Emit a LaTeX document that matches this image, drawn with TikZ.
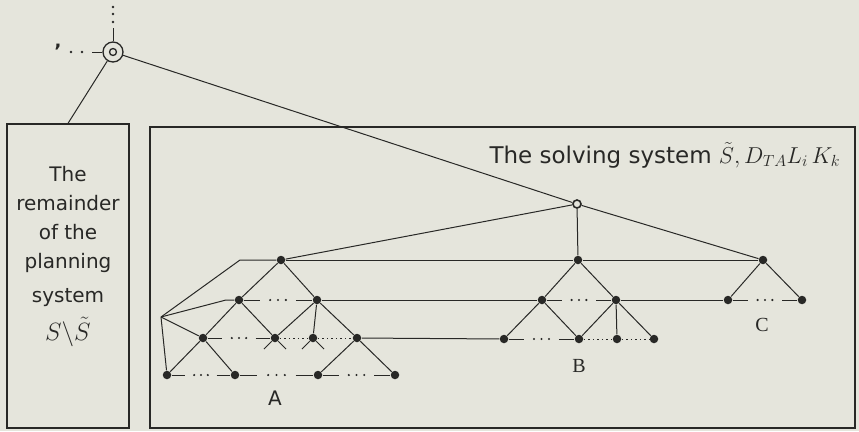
\RequirePackage{fix-cm}
\documentclass[tikz,border=0pt]{standalone}
\usepackage{fontspec}
\setmainfont{DejaVu Sans}
\newfontfamily\serifletter{Liberation Serif}
\usetikzlibrary{calc}
\definecolor{paper}{RGB}{229,229,220}
\definecolor{ink}{RGB}{40,40,38}

\begin{document}
\begin{tikzpicture}[x=1pt, y=-1pt,
        line width=1pt, color=ink,
        dotnode/.style = {circle, fill=ink, inner sep=0pt, minimum size=8.5pt},
        opennode/.style = {circle, draw=ink, fill=paper, line width=1.6pt, inner sep=0pt, minimum size=8pt},
        plannode/.style = {circle, draw=ink, line width=1.3pt, inner sep=0pt, minimum size=20pt},
        framebox/.style = {draw=ink, line width=1.3pt, inner sep=0pt},
        boxtext/.style = {font=\fontsize{20}{29}\selectfont, align=center},
        tightdots/.style = {dash pattern=on 1.5pt off 3pt},
        treelabel/.style = {font=\fontsize{20}{24}\selectfont}
        ]
        \fill[paper] (0,0) rectangle (859,431);
        \useasboundingbox (0,0) rectangle (859,431);

        % the two systems
        \node[framebox, minimum width=122pt, minimum height=304pt] (rest) at (68,276) {};
        \node[framebox, minimum width=705pt, minimum height=301pt] (solving) at (502.5,277.5) {};
        \node[boxtext, anchor=north] (restlabel) at (68,162) {The\\remainder\\of the\\planning\\[5pt]system\\[9pt]\fontsize{25}{28}\selectfont$S\backslash\tilde S$};
        \node[anchor=base west, inner sep=0pt, font=\fontsize{23}{27}\selectfont] (title) at (489,163) {The solving system $\tilde S, D_{TA} L_i\, K_k$};

        % top of the hierarchy
        \node[plannode] (plan) at (113,52) {};
        \draw[line width=1.3pt] (plan.center) circle[radius=3.5pt];
        \node[opennode] (solv) at (577,204) {};
        \coordinate (hub) at (161,317);
        \coordinate (up) at (113,28);
        \coordinate (lft) at (92,52);
        \node[font=\fontsize{18}{22}\selectfont\bfseries] (comma) at (58,47) {,};
        \foreach \y in {7,14,22} \fill (113,\y) circle[radius=1.3pt];
        \foreach \x in {71,82} \fill (\x,52) circle[radius=1.3pt];
        \draw (up) -- (plan);
        \draw (lft) -- (plan);
        \draw (plan) -- (rest.north);
        \draw (plan) -- (solv);

        % tree A
        \node[dotnode] (aR) at (281,260) {};
        \node[dotnode] (aL2a) at (239,300) {};
        \node[dotnode] (aL2b) at (317,300) {};
        \node[dotnode] (aL3a) at (203,338) {};
        \node[dotnode] (aL3b) at (275,338) {};
        \node[dotnode] (aL3c) at (313,338) {};
        \node[dotnode] (aL3d) at (357,338) {};
        \node[dotnode] (aL4a) at (167,375) {};
        \node[dotnode] (aL4b) at (235,375) {};
        \node[dotnode] (aL4c) at (318,375) {};
        \node[dotnode] (aL4d) at (395,375) {};
        \node[treelabel] (labA) at (275,398) {A};

        % tree B
        \node[dotnode] (bR) at (578,260) {};
        \node[dotnode] (bL2a) at (542,300) {};
        \node[dotnode] (bL2b) at (616,300) {};
        \node[dotnode] (bL3a) at (504,339) {};
        \node[dotnode] (bL3b) at (579,339) {};
        \node[dotnode] (bL3c) at (617,339) {};
        \node[dotnode] (bL3d) at (654,339) {};
        \node[treelabel, font=\fontsize{20}{24}\serifletter] (labB) at (579,366) {B};

        % tree C
        \node[dotnode] (cR) at (763,260) {};
        \node[dotnode] (cL2a) at (728,300) {};
        \node[dotnode] (cL2b) at (802,300) {};
        \node[treelabel, font=\fontsize{20}{24}\serifletter] (labC) at (762,325) {C};

        % links from the solving node
        \draw (solv) -- (aR);
        \draw (solv) -- (bR);
        \draw (solv) -- (cR);

        % lines from the left
        \coordinate (k1) at (240,260);
        \coordinate (k2) at (226,300);
        \draw (hub) -- (k1) -- (aR);
        \draw (hub) -- (k2) -- (aL2a);
        \draw (hub) -- (aL3a);
        \draw (hub) -- (aL4a);

        % levels
        \draw (aR) -- (bR) -- (cR);
        \draw (aL2b) -- (bL2a);
        \draw (bL2b) -- (cL2a);
        \draw (aL3d) -- (bL3a);
        \draw[tightdots] (aL3b) -- (aL3c) -- (aL3d);
        \draw[tightdots] (bL3b) -- (bL3c) -- (bL3d);
        \foreach \p/\q in {aL2a/aL2b, bL2a/bL2b, cL2a/cL2b, aL3a/aL3b, bL3a/bL3b, aL4a/aL4b, aL4b/aL4c, aL4c/aL4d}{
                \draw (\p) -- ($(\p)!.27!(\q)$) ($(\q)!.27!(\p)$) -- (\q);
                \foreach \t in {.4,.5,.6} \fill ($(\p)!\t!(\q)$) circle[radius=1.2pt];
        }

        % tree edges
        \draw (aR) -- (aL2a);
        \draw (aR) -- (aL2b);
        \draw (aL2a) -- (aL3a);
        \draw (aL2a) -- (aL3b);
        \draw (aL2b) -- (aL3b);
        \draw (aL2b) -- (aL3c);
        \draw (aL2b) -- (aL3d);
        \draw (aL3a) -- (aL4a);
        \draw (aL3a) -- (aL4b);
        \draw (aL3d) -- (aL4c);
        \draw (aL3d) -- (aL4d);
        \draw (bR) -- (bL2a);
        \draw (bR) -- (bL2b);
        \draw (bL2a) -- (bL3a);
        \draw (bL2a) -- (bL3b);
        \draw (bL2b) -- (bL3b);
        \draw (bL2b) -- (bL3c);
        \draw (bL2b) -- (bL3d);
        \draw (cR) -- (cL2a);
        \draw (cR) -- (cL2b);

        % cut branches
        \foreach \n in {aL3b, aL3c}{
                \draw (\n) -- ++(-11,11);
                \draw (\n) -- ++(11,11);
        }
\end{tikzpicture}
\end{document}
